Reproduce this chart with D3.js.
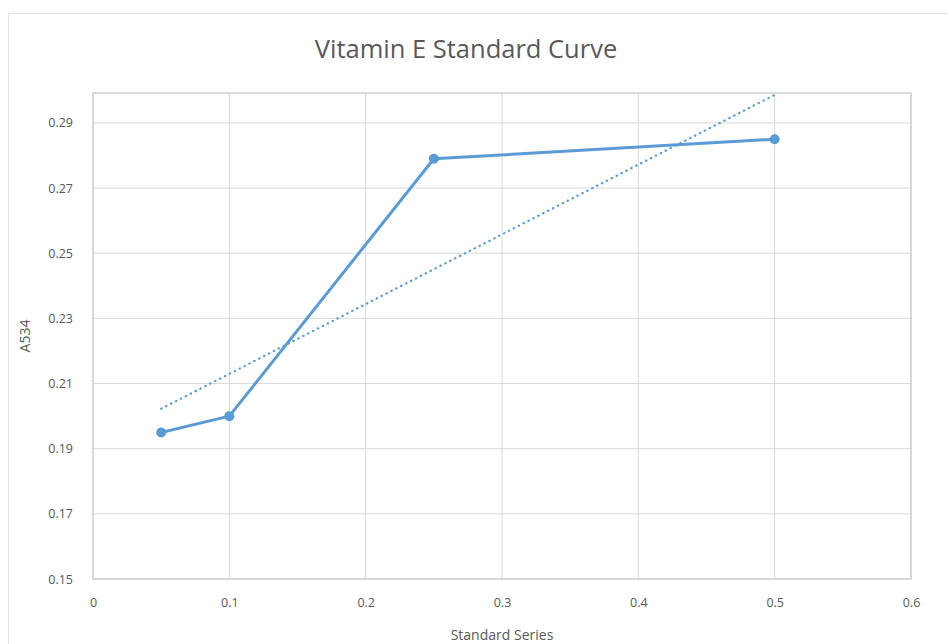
<!DOCTYPE html>
<html>
<head>
<meta charset="utf-8">
<script src="https://cdn.jsdelivr.net/npm/d3@7"></script>
<style>
  body { margin: 0; background: #fff; }
  text { font-family: "Open Sans", Lato, sans-serif; fill: #595959; }
</style>
</head>
<body>
<div id="chart"></div>
<script>
// data
var xValues = [0.05, 0.1, 0.25, 0.5];
var yValues = [0.195, 0.200, 0.279, 0.285];
var xTicks = [0, 0.1, 0.2, 0.3, 0.4, 0.5, 0.6];
var yTicks = [0.15, 0.17, 0.19, 0.21, 0.23, 0.25, 0.27, 0.29];

var W = 948, H = 644;
var margin = {top: 93, right: 37, bottom: 65, left: 93},
    width = W - margin.left - margin.right,
    height = H - margin.top - margin.bottom;

var svg = d3.select('#chart').append('svg')
    .attr('width', W)
    .attr('height', H);

// chart area border
svg.append('rect')
    .attr('x', 8.5).attr('y', 13.5)
    .attr('width', 960).attr('height', 700)
    .attr('fill', 'none')
    .attr('stroke', '#e3e3e3');

var x = d3.scaleLinear().domain([0, 0.6]).range([0, width]);
var y = d3.scaleLinear().domain([0.15, 0.2992]).range([height, 0]);

var g = svg.append('g')
    .attr('transform', 'translate(' + margin.left + ',' + margin.top + ')');

// gridlines
g.selectAll('.vgrid').data(xTicks).enter().append('line')
    .attr('x1', function(d) { return x(d); })
    .attr('x2', function(d) { return x(d); })
    .attr('y1', 0).attr('y2', height)
    .attr('stroke', '#d9d9d9').attr('stroke-width', 1);

g.selectAll('.hgrid').data(yTicks).enter().append('line')
    .attr('x1', 0).attr('x2', width)
    .attr('y1', function(d) { return y(d); })
    .attr('y2', function(d) { return y(d); })
    .attr('stroke', '#d9d9d9').attr('stroke-width', 1);

// plot border
g.append('rect')
    .attr('width', width).attr('height', height)
    .attr('fill', 'none')
    .attr('stroke', '#d0d0d0').attr('stroke-width', 1.5);

// axes (labels only)
var xAxis = g.append('g')
    .attr('transform', 'translate(0,' + height + ')')
    .call(d3.axisBottom(x).tickValues(xTicks).tickSize(0).tickPadding(19)
      .tickFormat(function(d) { return d === 0 ? '0' : d3.format('.1f')(d); }));
var yAxis = g.append('g')
    .call(d3.axisLeft(y).tickValues(yTicks).tickSize(0).tickPadding(20)
      .tickFormat(d3.format('.2f')));
[xAxis, yAxis].forEach(function(a) {
  a.select('.domain').remove();
  a.selectAll('text').style('font-size', '12.5px').attr('fill', '#595959');
});

// linear trendline (least squares, like Excel)
var mx = d3.mean(xValues), my = d3.mean(yValues);
var sxy = d3.sum(xValues, function(v, i) { return (v - mx) * (yValues[i] - my); });
var sxx = d3.sum(xValues, function(v) { return (v - mx) * (v - mx); });
var slope = sxy / sxx, icpt = my - slope * mx;
var trend = d3.extent(xValues).map(function(v) { return {x: v, y: icpt + slope * v}; });

var line = d3.line()
    .x(function(d) { return x(d.x); })
    .y(function(d) { return y(d.y); });

g.append('path')
    .datum(trend)
    .attr('fill', 'none')
    .attr('stroke', '#5b9bd5')
    .attr('stroke-width', 2.2)
    .attr('stroke-linecap', 'round')
    .attr('stroke-dasharray', '0.5,5')
    .attr('d', line);

var pts = xValues.map(function(v, i) { return {x: v, y: yValues[i]}; });

g.append('path')
    .datum(pts)
    .attr('fill', 'none')
    .attr('stroke', '#5b9bd5')
    .attr('stroke-width', 3)
    .attr('stroke-linejoin', 'round')
    .attr('d', line);

g.selectAll('.dot').data(pts).enter().append('circle')
    .attr('cx', function(d) { return x(d.x); })
    .attr('cy', function(d) { return y(d.y); })
    .attr('r', 5)
    .attr('fill', '#5b9bd5');

// titles
svg.append('text')
    .attr('x', 466).attr('y', 58)
    .attr('text-anchor', 'middle')
    .style('font-size', '25.5px')
    .text('Vitamin E Standard Curve');

svg.append('text')
    .attr('x', margin.left + width / 2).attr('y', 640)
    .attr('text-anchor', 'middle')
    .style('font-size', '14px')
    .text('Standard Series');

svg.append('text')
    .attr('transform', 'translate(30,' + (margin.top + height / 2) + ') rotate(-90)')
    .attr('text-anchor', 'middle')
    .style('font-size', '14px')
    .text('A534');
</script>
</body>
</html>
